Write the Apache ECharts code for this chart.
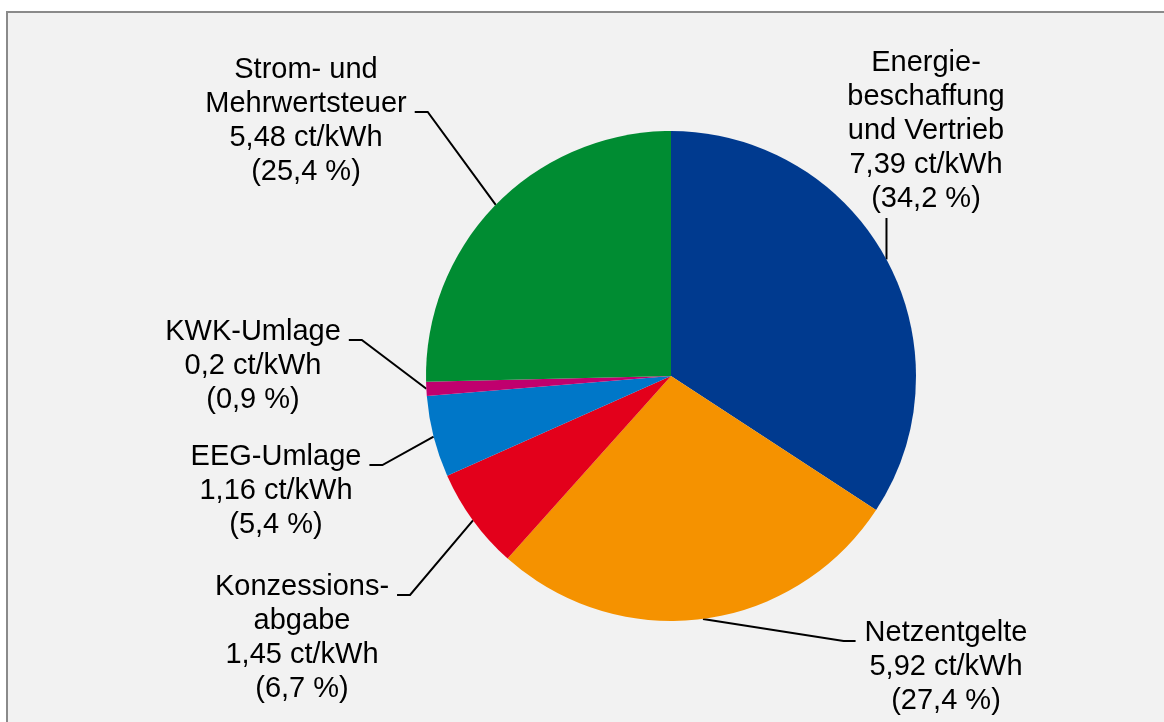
<!DOCTYPE html>
<html>
<head>
<meta charset="utf-8">
<script src="https://cdn.jsdelivr.net/npm/echarts@6/dist/echarts.min.js"></script>
<style>
  html, body { margin: 0; padding: 0; background: #ffffff; overflow: hidden; }
  #myChart { width: 1164px; height: 722px; }
</style>
</head>
<body>
<div id="myChart"></div>
<script type="text/javascript">

  // data
  var names = [
    "Energie-\nbeschaffung\nund Vertrieb",
    "Netzentgelte",
    "Konzessions-\nabgabe",
    "EEG-Umlage",
    "KWK-Umlage",
    "Strom- und\nMehrwertsteuer"
  ];
  var values = [7.39, 5.92, 1.45, 1.16, 0.2, 5.48];
  var colors = ["#003a8f", "#f59200", "#e3001b", "#0077c8", "#c0006e", "#008c32"];

  // label placement (block centre) and which text line the leader attaches to (-1 = below)
  var labelCenters = [[926, 131], [946, 667], [302, 638], [276, 491], [253, 366], [306, 121]];
  var attachLine = [-1, 0, 0, 0, 0, 1];

  var lineH = 34;
  var bgColor = "#f2f2f2";

  var chartDom = document.getElementById("myChart");
  var myChart = echarts.init(chartDom);

  function fmt(v) {
    return String(v).replace(".", ",");
  }

  var data = [];
  for (var i = 0; i < values.length; i++) {
    data.push({ name: names[i], value: values[i], itemStyle: { color: colors[i] } });
  }

  var option = {
    backgroundColor: "#ffffff",
    animation: false,
    graphic: [
      {
        type: "rect",
        z: -10,
        shape: { x: 7, y: 12, width: 1200, height: 800 },
        style: { fill: bgColor, stroke: "#8a8a8a", lineWidth: 2 }
      }
    ],
    series: [
      {
        type: "pie",
        center: [671, 376],
        radius: [0, 245],
        startAngle: 90,
        clockwise: true,
        silent: true,
        percentPrecision: 1,
        avoidLabelOverlap: false,
        data: data,
        itemStyle: { borderWidth: 0 },
        label: {
          show: true,
          position: "outside",
          color: "#000000",
          fontFamily: "Liberation Sans, Arial, sans-serif",
          fontSize: 29,
          lineHeight: lineH,
          align: "center",
          formatter: function (p) {
            return p.name + "\n" + fmt(p.value) + " ct/kWh\n(" + fmt(p.percent) + " %)";
          }
        },
        labelLine: {
          show: true,
          length: 10,
          length2: 10,
          lineStyle: { color: "#000000", width: 2 }
        },
        labelLayout: function (params) {
          var idx = params.dataIndex;
          var c = labelCenters[idx];
          var w = params.labelRect.width;
          var nLines = names[idx].split("\n").length + 2;
          var top = c[1] - nLines * lineH / 2;
          var p0 = params.labelLinePoints[0];
          var p1, p2;
          if (attachLine[idx] < 0) {
            // straight up to the bottom of the label
            p2 = [p0[0], top + nLines * lineH + 2];
            p1 = p2;
          } else {
            var ay = top + attachLine[idx] * lineH + lineH / 2 + 8;
            if (c[0] < 671) {
              p2 = [c[0] + w / 2 + 8, ay];
              p1 = [p2[0] + 13, ay];
            } else {
              p2 = [c[0] - w / 2 - 9, ay];
              p1 = [p2[0] - 12, ay];
            }
          }
          return {
            x: c[0],
            y: c[1],
            align: "center",
            verticalAlign: "middle",
            labelLinePoints: [p0, p1, p2]
          };
        }
      }
    ]
  };

  option && myChart.setOption(option);
</script>
</body>
</html>
